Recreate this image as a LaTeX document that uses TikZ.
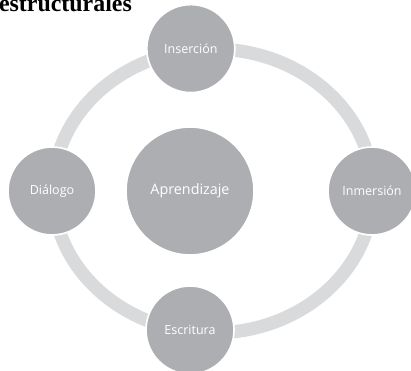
\documentclass[tikz,border=0pt]{standalone}
\usepackage{fontspec}
\usepackage{xcolor}

\newfontfamily\cyclefont{Open Sans}
\newfontfamily\titlefont{Liberation Serif}
\definecolor{stage}{RGB}{173,174,177}
\definecolor{track}{RGB}{217,218,220}

\begin{document}
\begin{tikzpicture}[
    stage node/.style={circle, fill=stage, draw=white, line width=1.2pt, minimum size=2.2cm, inner sep=0pt, text=white, font=\cyclefont\fontsize{8.9}{11}\selectfont},
    core node/.style={stage node, minimum size=3.2cm, font=\cyclefont\fontsize{10.2}{12}\selectfont},
    track line/.style={draw=track, line width=0.33cm}
]
    \clip (-4.75,-4.5) rectangle (5.525,4.775);

    % Heading, cut by the page edge
    \node[anchor=base west, inner sep=0pt, font=\titlefont\bfseries\fontsize{17}{20}\selectfont] (head) at (-4.78,4.49) {estructurales};

    % Cycle track
    \coordinate (C) at (0.575,0);
    \draw[track line] (C) ellipse [x radius=4cm, y radius=3.55cm];

    % Stages
    \node[core node] (A) at (0,0) {Aprendizaje};
    \node[stage node] (S1) at (0.02,3.56) {Inserción};
    \node[stage node] (S2) at (4.55,0) {Inmersión};
    \node[stage node] (S3) at (0,-3.475) {Escritura};
    \node[stage node] (S4) at (-3.45,0) {Diálogo};
\end{tikzpicture}
\end{document}
